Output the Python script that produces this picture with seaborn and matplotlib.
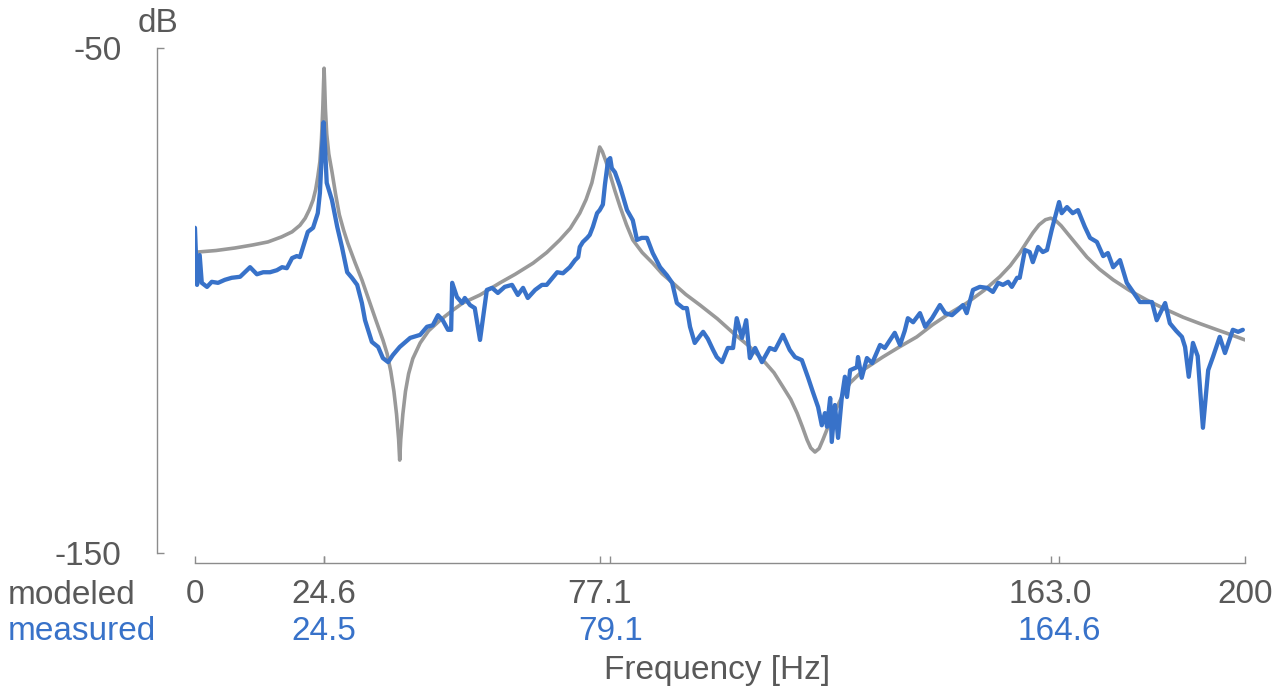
import seaborn as sns
import matplotlib.pyplot as plt
import pandas as pd

# modeled response (grey)
modeled_hz = [0.5, 4.0, 7.6, 11.0, 13.9, 16.5, 18.5, 20.0, 21.0, 21.8, 22.5, 23.0, 23.4, 23.8,
              24.1, 24.35, 24.5, 24.6, 24.7, 24.85, 25.1, 25.5, 26.1, 26.8, 27.5, 28.3, 29.1,
              30.5, 31.8, 33.0, 34.5, 35.8, 36.6, 37.3, 37.9, 38.4, 38.8, 39.0, 39.2, 39.6,
              40.1, 40.7, 41.5, 42.9, 44.5, 46.7, 49.0, 51.0, 54.3, 58.1, 61.0, 64.4, 67.0,
              69.5, 71.5, 73.3, 74.5, 75.6, 76.5, 77.1, 77.6, 78.3, 79.0, 80.0, 81.0, 82.2,
              83.4, 85.2, 87.2, 89.0, 91.0, 93.5, 96.2, 99.5, 102.5, 105.5, 108.2, 110.3,
              112.0, 113.5, 114.7, 115.7, 116.6, 117.3, 118.1, 118.9, 119.6, 120.9, 122.3,
              123.5, 124.8, 127.5, 131.0, 134.0, 137.5, 140.5, 143.8, 147.0, 150.3, 153.3,
              155.3, 157.1, 158.4, 159.6, 160.8, 162.0, 163.0, 164.0, 165.0, 166.1, 168.0,
              169.9, 172.3, 174.9, 178.0, 181.3, 184.8, 188.2, 191.5, 194.7, 197.4, 200.0]
modeled_db = [-90.4, -90.1, -89.6, -89.0, -88.4, -87.4, -86.4, -85.1, -83.7, -82.0, -80.1, -78.0, -75.5, -72.5,
              -68.0, -62.0, -57.0, -54.0, -57.0, -62.0, -67.0, -71.0, -74.5, -79.0, -83.0, -86.0, -88.6,
              -92.5, -95.9, -99.5, -104.0, -107.8, -110.5, -114.0, -118.0, -122.5, -127.5, -131.6, -127.5, -122.5,
              -118.0, -114.5, -111.5, -108.4, -106.0, -103.9, -102.0, -100.5, -98.9, -96.5, -94.8, -92.6, -90.5,
              -88.0, -85.7, -82.7, -80.0, -76.7, -72.5, -69.6, -70.5, -72.5, -74.8, -78.3, -81.5, -85.0,
              -88.0, -90.5, -92.6, -94.7, -96.5, -98.8, -100.9, -103.6, -106.4, -109.0, -111.8, -114.3,
              -117.1, -119.6, -122.3, -125.0, -127.6, -129.2, -130.0, -129.3, -127.6, -124.2, -121.1,
              -118.5, -116.3, -113.6, -111.2, -109.3, -107.2, -104.8, -102.5, -100.5, -98.0, -95.3,
              -93.1, -90.6, -88.5, -86.6, -85.0, -84.0, -83.7, -84.2, -85.2, -86.6, -89.0,
              -91.4, -93.8, -95.9, -98.0, -99.9, -101.7, -103.3, -104.6, -105.8, -106.8, -107.8]

# measured response (blue)
measured_hz = [0.0, 0.4, 0.9, 1.3, 2.3, 3.2, 4.4, 5.7, 7.0, 8.6, 9.5, 10.5, 11.8, 13.0,
               14.3, 15.6, 16.6, 17.5, 18.5, 19.4, 20.0, 20.6, 21.5, 22.5, 23.4, 23.8,
               24.2, 24.5, 24.8, 25.1, 26.1, 27.1, 28.0, 29.0, 29.9, 30.9, 31.8, 32.4,
               33.7, 34.9, 35.8, 36.8, 37.7, 39.0, 41.0, 42.9, 44.2, 45.3, 46.3, 47.2,
               48.2, 48.8, 49.0, 49.9, 50.9, 51.4, 52.4, 53.3, 54.3, 54.9, 55.6, 56.6,
               57.7, 59.0, 60.4, 61.5, 62.5, 63.4, 64.8, 66.1, 67.0, 69.0, 70.1, 71.4,
               72.4, 73.0, 73.3, 73.9, 74.7, 75.2, 75.8, 76.6, 77.1, 77.7, 78.1, 78.7,
               79.1, 79.4, 80.0, 81.0, 82.3, 83.4, 84.2, 85.1, 86.1, 87.2, 88.6, 89.9,
               90.9, 91.8, 93.0, 93.7, 94.3, 95.2, 96.2, 96.8, 97.7, 98.7, 99.4, 100.4,
               101.5, 102.5, 103.2, 104.2, 105.0, 105.7, 106.7, 108.0, 109.5, 110.5,
               112.0, 113.3, 114.3, 115.6, 116.8, 117.7, 118.7, 119.4, 120.0, 120.4,
               121.0, 121.3, 121.9, 122.5, 123.2, 123.8, 124.2, 124.8, 126.1, 126.3,
               127.0, 128.0, 129.0, 130.5, 131.4, 133.3, 134.3, 135.2, 135.8, 136.8,
               138.1, 139.1, 140.4, 141.9, 142.9, 144.2, 145.3, 146.3, 147.0, 148.2,
               149.5, 150.9, 152.0, 153.0, 153.9, 154.9, 155.6, 156.6, 157.1, 158.1,
               159.0, 159.6, 160.6, 161.5, 162.3, 163.2, 164.6, 165.1, 166.1, 167.2,
               168.2, 169.5, 170.5, 171.8, 173.0, 173.9, 174.9, 176.2, 177.5, 178.7,
               180.0, 181.0, 182.3, 183.2, 184.8, 185.7, 186.9, 188.0, 188.6, 189.3,
               190.1, 191.0, 192.0, 193.0, 193.9, 195.2, 196.2, 197.7, 198.7, 199.6]
measured_db = [-85.6, -96.9, -91.0, -96.5, -97.3, -96.3, -96.5, -95.9, -95.5, -95.3, -94.4, -93.4, -94.8, -94.4,
               -94.4, -94.0, -93.4, -93.6, -91.6, -91.2, -91.4, -89.4, -86.4, -85.6, -82.7, -78.7,
               -70.2, -64.7, -70.2, -76.7, -80.1, -85.4, -89.4, -94.4, -95.5, -96.9, -100.5, -103.9,
               -108.2, -109.2, -111.4, -112.2, -110.8, -109.2, -107.4, -106.8, -105.2, -104.9, -102.9, -103.9,
               -105.8, -105.8, -96.5, -99.3, -100.5, -99.5, -100.9, -101.5, -107.8, -103.3, -97.9, -97.5,
               -98.5, -97.3, -96.9, -98.9, -97.5, -99.5, -97.9, -96.9, -96.9, -94.4, -94.6, -93.4,
               -92.0, -91.4, -89.4, -88.4, -87.6, -87.0, -85.4, -82.7, -82.1, -81.0, -77.0, -72.2,
               -71.8, -73.8, -74.6, -77.5, -82.1, -84.1, -88.0, -87.6, -87.6, -90.6, -93.4, -95.0,
               -96.5, -100.5, -101.5, -101.5, -105.2, -108.4, -107.0, -106.2, -107.6, -109.8, -111.2, -112.2,
               -109.4, -109.4, -103.5, -107.4, -103.9, -111.4, -109.4, -112.2, -109.4, -109.8,
               -106.8, -109.8, -111.2, -111.8, -115.3, -118.1, -121.1, -124.7, -122.3, -125.0,
               -119.3, -128.0, -120.7, -127.2, -119.3, -115.1, -119.1, -113.8, -113.2, -111.2,
               -115.3, -111.4, -112.4, -108.8, -109.4, -106.4, -108.8, -106.0, -103.5, -104.3,
               -102.5, -105.2, -103.5, -100.9, -102.5, -102.9, -101.9, -100.9, -102.5, -97.9,
               -97.3, -97.5, -98.3, -96.5, -96.9, -96.3, -97.3, -95.5, -95.5, -90.0,
               -90.4, -92.4, -89.4, -90.4, -90.0, -86.0, -80.5, -82.7, -81.5, -82.7,
               -82.1, -85.4, -87.6, -88.4, -91.2, -90.6, -93.4, -92.0, -96.5, -98.3,
               -100.3, -100.3, -100.3, -103.9, -100.5, -104.5, -106.0, -107.2, -109.2, -115.1,
               -108.4, -111.0, -125.2, -113.8, -111.2, -107.2, -110.4, -105.8, -106.2, -105.8]

modeled_ticks = [0, 24.6, 77.1, 163.0, 200]
modeled_labels = ['0', '24.6', '77.1', '163.0', '200']
measured_ticks = [24.5, 79.1, 164.6]
measured_labels = ['24.5', '79.1', '164.6']

GREY = '#999999'
BLUE = '#3872C9'
TEXT = '#595959'
FS = 24

sns.set_theme(style='ticks')
plt.rcParams['font.family'] = ['Liberation Sans', 'DejaVu Sans']

modeled = pd.DataFrame({'freq': modeled_hz, 'db': modeled_db})
measured = pd.DataFrame({'freq': measured_hz, 'db': measured_db})

fig = plt.figure(figsize=(12.8, 6.93), dpi=100)
ax = fig.add_axes([0.1523, 0.2020, 0.8203, 0.7287])

sns.lineplot(data=modeled, x='freq', y='db', color=GREY, linewidth=2.6, estimator=None, ax=ax)
sns.lineplot(data=measured, x='freq', y='db', color=BLUE, linewidth=3.1, estimator=None, ax=ax)

ax.set_xlim(0, 200)
ax.set_ylim(-150, -50)
ax.set_xticks(modeled_ticks, labels=modeled_labels)
ax.set_xticks(measured_ticks, labels=measured_labels, minor=True)
ax.set_yticks([-150, -50], labels=['-150', '-50'])

sns.despine(ax=ax, offset={'left': 27, 'bottom': 7})
for side in ['left', 'bottom']:
    ax.spines[side].set_color('#8c8c8c')
    ax.spines[side].set_linewidth(1.0)

ax.tick_params(axis='both', which='both', direction='in', length=5, width=1,
               color='#8c8c8c', labelsize=FS, labelcolor=TEXT)
ax.tick_params(axis='x', which='major', pad=11.5)
ax.tick_params(axis='x', which='minor', pad=38, labelcolor=BLUE)
ax.tick_params(axis='y', pad=26)

ax.set_xlabel('')
ax.set_ylabel('')

fig.text(158 / 1280, 1 - 23 / 693, 'dB', fontsize=FS, color=TEXT, ha='center', va='center')
fig.text(8 / 1280, 1 - 595 / 693, 'modeled', fontsize=FS, color=TEXT, ha='left', va='center')
fig.text(8 / 1280, 1 - 631 / 693, 'measured', fontsize=FS, color=BLUE, ha='left', va='center')
fig.text(717 / 1280, 1 - 671 / 693, 'Frequency [Hz]', fontsize=FS, color=TEXT, ha='center', va='center')

fig.savefig('out.png', dpi=100)
